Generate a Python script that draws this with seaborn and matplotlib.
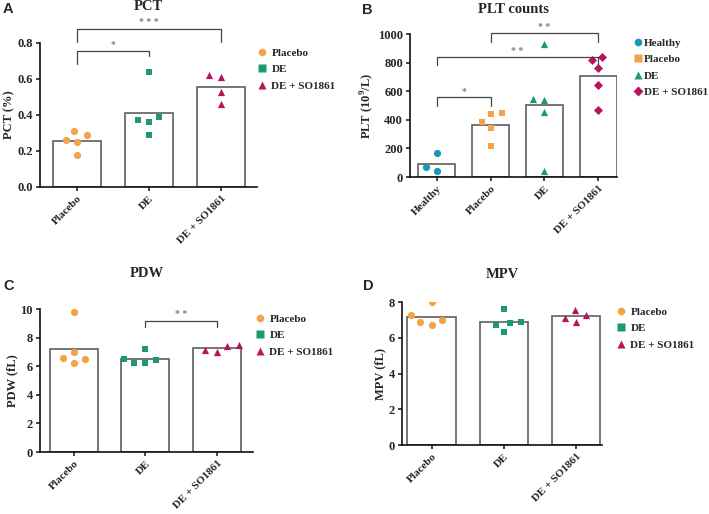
import matplotlib
matplotlib.use("Agg")
import matplotlib.pyplot as plt
import seaborn as sns
import pandas as pd
from matplotlib.lines import Line2D

# ---------- data ----------
groups3 = ["Placebo", "DE", "DE + SO1861"]
groups4 = ["Healthy", "Placebo", "DE", "DE + SO1861"]

pct_placebo = [0.31, 0.26, 0.25, 0.29, 0.18]
pct_de = [0.64, 0.37, 0.36, 0.39, 0.29]
pct_deso = [0.61, 0.62, 0.53, 0.46]

plt_healthy = [166, 44, 70]
plt_placebo = [438, 445, 382, 340, 220]
plt_de = [930, 539, 546, 452, 44]
plt_deso = [838, 820, 761, 646, 468]

pdw_placebo = [9.8, 7.0, 6.6, 6.5, 6.2]
pdw_de = [7.2, 6.4, 6.2, 6.2, 6.5]
pdw_deso = [7.4, 7.0, 7.15, 7.45]

mpv_placebo = [8.0, 7.3, 7.0, 6.9, 6.7]
mpv_de = [7.6, 6.8, 6.9, 6.7, 6.3]
mpv_deso = [7.55, 7.25, 7.1, 6.9]

# ---------- style ----------
C_HEALTHY = "#1b95bd"
C_PLACEBO = "#f4a446"
C_DE = "#1a9a6e"
C_DESO = "#b7145f"

sns.set_theme(style="ticks")
plt.rcParams["font.family"] = ["Liberation Serif", "DejaVu Serif"]
plt.rcParams["font.weight"] = "bold"
plt.rcParams["axes.titleweight"] = "bold"
plt.rcParams["axes.labelweight"] = "bold"
plt.rcParams["mathtext.fontset"] = "custom"
plt.rcParams["mathtext.rm"] = "Liberation Serif:bold"


def long_df(groups, series):
    rows = []
    for g, vals in zip(groups, series):
        for v in vals:
            rows.append({"group": g, "value": v})
    return pd.DataFrame(rows)


def panel(ax, groups, series, colors, markers, title, ylabel, ylim, yticks,
          xlim, fmt, title_pad, brackets, bar_w=0.67):
    df = long_df(groups, series)
    sns.barplot(data=df, x="group", y="value", order=groups, errorbar=None,
                color="white", saturation=1, edgecolor="#5f5f5f", linewidth=1.2,
                width=bar_w, ax=ax)
    for g, c, m in zip(groups, colors, markers):
        sub = df[df["group"] == g]
        sz = 4.6 if m in ("s", "D") else 5.2
        # transparent edge widens the swarm spacing without showing
        sns.swarmplot(data=sub, x="group", y="value", order=groups, color=c,
                      marker=m, size=sz, linewidth=3, edgecolor=(1, 1, 1, 0),
                      ax=ax, zorder=3)
    ax.set_xlim(*xlim)
    ax.set_ylim(*ylim)
    ax.set_yticks(yticks)
    ax.set_yticklabels([fmt.format(t) for t in yticks], fontsize=9)
    ax.set_xticks(range(len(groups)))
    ax.set_xticklabels(groups, rotation=45, ha="right", rotation_mode="anchor", fontsize=8)
    ax.set_xlabel("")
    ax.set_ylabel(ylabel, fontsize=9, labelpad=1.5)
    ax.set_title(title, fontsize=10.5, pad=title_pad)
    sns.despine(ax=ax)
    for s in ("left", "bottom"):
        ax.spines[s].set_linewidth(1.2)
        ax.spines[s].set_color("#111111")
    ax.tick_params(axis="both", length=3, width=1.1, color="#111111", pad=2)

    for x1, x2, y, yl, yr, label, dy in brackets:
        ax.plot([x1, x1, x2, x2], [yl, y, y, yr], color="#444444", lw=0.9,
                clip_on=False, zorder=4)
        ax.text((x1 + x2) / 2, y + dy, label, ha="center", va="center",
                fontsize=7, color="#808080", clip_on=False)

    handles = [Line2D([], [], marker=m, linestyle="none", markerfacecolor=c,
                      markeredgecolor="none", markersize=5.5)
               for c, m in zip(colors, markers)]
    return handles


fig = plt.figure(figsize=(7.09, 5.14), dpi=100)

axA = fig.add_axes([0.0564, 0.6362, 0.306, 0.2802])
axB = fig.add_axes([0.5783, 0.6556, 0.292, 0.2782])
axC = fig.add_axes([0.0564, 0.1206, 0.3004, 0.2782])
axD = fig.add_axes([0.567, 0.1342, 0.282, 0.2782])

hA = panel(axA, groups3, [pct_placebo, pct_de, pct_deso],
           [C_PLACEBO, C_DE, C_DESO], ["o", "s", "^"],
           "PCT", "PCT (%)", (0, 0.8), [0, 0.2, 0.4, 0.6, 0.8],
           (-0.52, 2.5), "{:.1f}", 24,
           [(0, 1, 0.757, 0.683, 0.726, "*", 0.035),
            (0, 2, 0.878, 0.804, 0.804, "* * *", 0.035)])

hB = panel(axB, groups4, [plt_healthy, plt_placebo, plt_de, plt_deso],
           [C_HEALTHY, C_PLACEBO, C_DE, C_DESO], ["o", "s", "^", "D"],
           "PLT counts", "PLT (10$^{9}$/L)", (0, 1000), [0, 200, 400, 600, 800, 1000],
           (-0.5, 3.35), "{:.0f}", 15,
           [(0, 1, 557, 496, 496, "*", 40),
            (0, 3, 838, 782, 782, "* *", 40),
            (1, 3, 1007, 941, 941, "* *", 40)], bar_w=0.69)

hC = panel(axC, groups3, [pdw_placebo, pdw_de, pdw_deso],
           [C_PLACEBO, C_DE, C_DESO], ["o", "s", "^"],
           "PDW", "PDW (fL)", (0, 10), [0, 2, 4, 6, 8, 10],
           (-0.47, 2.5), "{:.0f}", 23,
           [(1, 2, 9.19, 8.77, 8.77, "* *", 0.45)])

hD = panel(axD, groups3, [mpv_placebo, mpv_de, mpv_deso],
           [C_PLACEBO, C_DE, C_DESO], ["o", "s", "^"],
           "MPV", "MPV (fL)", (0, 8), [0, 2, 4, 6, 8],
           (-0.41, 2.36), "{:.0f}", 17, [])

leg_kw = dict(loc="upper left", frameon=False, fontsize=8, handlelength=0.8,
              labelspacing=0.6, borderpad=0, borderaxespad=0,
              bbox_transform=fig.transFigure)
fig.legend(hA, groups3, bbox_to_anchor=(258 / 709, 1 - 48 / 514),
           handletextpad=0.4, **leg_kw)
fig.legend(hB, groups4, bbox_to_anchor=(634 / 709, 1 - 38 / 514),
           handletextpad=0.1, **leg_kw)
fig.legend(hC, groups3, bbox_to_anchor=(256 / 709, 1 - 314 / 514),
           handletextpad=0.4, **leg_kw)
fig.legend(hD, groups3, bbox_to_anchor=(617 / 709, 1 - 307 / 514),
           handletextpad=0.4, **leg_kw)

for lbl, x, y in [("A", 3, 2), ("B", 362, 3), ("C", 3, 279), ("D", 363, 279)]:
    fig.text(x / 709, 1 - y / 514, lbl, ha="left", va="top", fontsize=10.5,
             fontweight="bold", family=["Liberation Sans", "DejaVu Sans"])

fig.savefig("out.png", dpi=100)
